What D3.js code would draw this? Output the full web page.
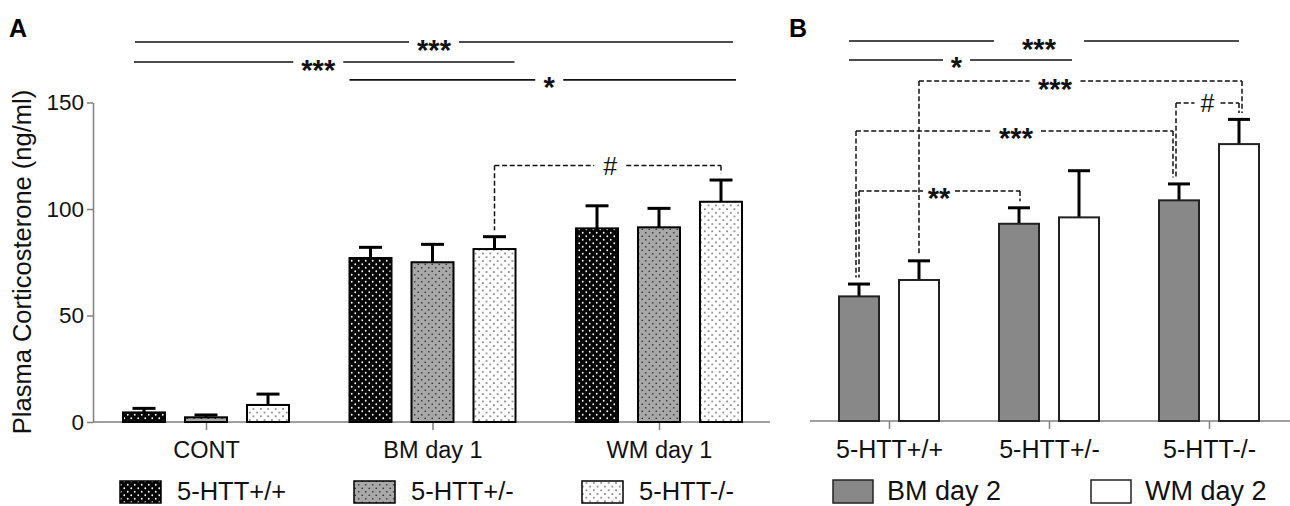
<!DOCTYPE html>
<html><head><meta charset="utf-8">
<script src="https://cdn.jsdelivr.net/npm/d3@7"></script>
<style>html,body{margin:0;padding:0;background:#fff;}svg{display:block;font-family:"Liberation Sans",Arial,sans-serif;}</style>
</head><body>
<svg id="c" width="1290" height="506"></svg>
<script>
// ---------- data ----------
const categoriesA = ["CONT", "BM day 1", "WM day 1"];
const seriesA = ["5-HTT+/+", "5-HTT+/-", "5-HTT-/-"];
const meansA = [[4.5, 2.2, 8.0], [77.0, 75.0, 81.2], [90.9, 91.4, 103.4]];
const semA = [[1.9, 1.1, 5.1], [5.0, 8.4, 5.8], [10.6, 8.9, 10.2]];

const categoriesB = ["5-HTT+/+", "5-HTT+/-", "5-HTT-/-"];
const seriesB = ["BM day 2", "WM day 2"];
const meansB = [[58.5, 66.2], [92.6, 95.6], [103.6, 130.0]];
const semB = [[5.8, 9.0], [7.5, 21.9], [7.7, 11.6]];

const yTicks = [0, 50, 100, 150];
const yTitle = "Plasma Corticosterone (ng/ml)";

// significance annotations (levels in data units)
const sigA = [
  {label: "***", level: 178.4, from: 0, to: 2, dashed: false},
  {label: "***", level: 169.0, from: 0, to: 1, dashed: false},
  {label: "*",   level: 160.6, from: 1, to: 2, dashed: false},
  {label: "#",   level: 120.4, from: [1, 2], to: [2, 2], dashed: true}
];
const sigB = [
  {label: "***", level: 178.4, from: 0, to: 2, dashed: false},
  {label: "*",   level: 169.5, from: 0, to: 1, dashed: false},
  {label: "***", level: 159.6, from: [0, 1], to: [2, 1], dashed: true},
  {label: "#",   level: 149.3, from: [2, 0], to: [2, 1], dashed: true},
  {label: "***", level: 136.2, from: [0, 0], to: [2, 0], dashed: true},
  {label: "**",  level: 108.0, from: [0, 0], to: [1, 0], dashed: true}
];

// ---------- layout (px) ----------
const layoutSigA = [
  {x1: -71, x2: 74, ldx: 0, gap: 25},
  {x1: -72, x2: 82, ldx: -6, gap: 25},
  {x1: -83, x2: 77, ldx: 6.5, gap: 14},
  {x1: 0, x2: 0, ldx: 2.5, gap: 16}
];
const layoutSigB = [
  {x1: -40, x2: 30, ldx: -5, gap: 45},
  {x1: -40, x2: 23, ldx: -4, gap: 13.5},
  {x1: 0, x2: 3, ldx: -25.5, gap: 25.5},
  {x1: -3, x2: 0, ldx: 0, gap: 13},
  {x1: -3, x2: -6, ldx: 1.5, gap: 25},
  {x1: 0, x2: 1, ldx: -0.5, gap: 16}
];

const FONT = "Liberation Sans, Arial, sans-serif";
const svg = d3.select("#c");
const defs = svg.append("defs");

function dotPattern(id, bg, dot, r, size) {
  const p = defs.append("pattern").attr("id", id).attr("patternUnits", "userSpaceOnUse")
    .attr("width", size).attr("height", size);
  p.append("rect").attr("width", size).attr("height", size).attr("fill", bg);
  p.append("circle").attr("cx", size / 4).attr("cy", size / 4).attr("r", r).attr("fill", dot);
  p.append("circle").attr("cx", 3 * size / 4).attr("cy", 3 * size / 4).attr("r", r).attr("fill", dot);
}
dotPattern("pA0", "#050505", "#ffffff", 0.9, 7);
dotPattern("pA1", "#a8a8a8", "#333333", 0.85, 7);
dotPattern("pA2", "#ffffff", "#333333", 0.8, 7.4);
const fillA = ["url(#pA0)", "url(#pA1)", "url(#pA2)"];
const fillB = ["#888888", "#ffffff"];

const y = d3.scaleLinear().domain([0, 150]).range([422, 102.5]);

// ---------- Panel A ----------
const gA = svg.append("g");
const xA = d3.scalePoint().domain(categoriesA).range([206, 659]);
const xsA = d3.scaleBand().domain(seriesA).range([-93, 93]).paddingInner(20 / 62).paddingOuter(10 / 62);

const yAxis = d3.axisLeft(y).tickValues(yTicks).tickSize(6).tickSizeOuter(0).tickPadding(3);
const ya = gA.append("g").attr("transform", "translate(93,0)").call(yAxis);
ya.select(".domain").attr("stroke", "#808080").attr("stroke-width", 1.5);
ya.selectAll(".tick line").attr("stroke", "#808080").attr("stroke-width", 1.5);
ya.selectAll(".tick text").attr("font-size", 22.5).attr("fill", "#111").attr("font-family", FONT);

const xAxisA = d3.axisBottom(xA).tickSize(8).tickSizeOuter(0).tickPadding(6);
const xaA = gA.append("g").attr("transform", "translate(0,422)").call(xAxisA);
xaA.select(".domain").attr("d", "M93,0H770").attr("stroke", "#808080").attr("stroke-width", 1.5);
xaA.selectAll(".tick line").attr("stroke", "#808080").attr("stroke-width", 1.5);
xaA.selectAll(".tick text").attr("font-size", 23.5).attr("fill", "#111").attr("font-family", FONT).attr("dy", "0.95em");

const dataA = [];
categoriesA.forEach((c, i) => seriesA.forEach((s, j) => dataA.push({c, s, i, j, v: meansA[i][j], e: semA[i][j]})));
const barsA = gA.append("g");
barsA.selectAll("line.err").data(dataA).join("line")
  .attr("x1", d => xA(d.c) + xsA(d.s) + xsA.bandwidth() / 2)
  .attr("x2", d => xA(d.c) + xsA(d.s) + xsA.bandwidth() / 2)
  .attr("y1", d => y(d.v)).attr("y2", d => y(d.v + d.e))
  .attr("stroke", "#000").attr("stroke-width", 3);
barsA.selectAll("line.cap").data(dataA).join("line")
  .attr("x1", d => xA(d.c) + xsA(d.s) + xsA.bandwidth() / 2 - 11.5)
  .attr("x2", d => xA(d.c) + xsA(d.s) + xsA.bandwidth() / 2 + 11.5)
  .attr("y1", d => y(d.v + d.e)).attr("y2", d => y(d.v + d.e))
  .attr("stroke", "#000").attr("stroke-width", 3);
barsA.selectAll("rect").data(dataA).join("rect")
  .attr("x", d => xA(d.c) + xsA(d.s)).attr("width", xsA.bandwidth())
  .attr("y", d => y(d.v)).attr("height", d => y(0) - y(d.v))
  .attr("fill", d => fillA[d.j]).attr("stroke", "#000").attr("stroke-width", 2);

// ---------- Panel B ----------
const gB = svg.append("g");
const xB = d3.scalePoint().domain(categoriesB).range([889, 1209]);
const xsB = d3.scaleBand().domain(seriesB).range([-60, 60]).paddingInner(20 / 60).paddingOuter(10 / 60);
const yB = y.copy().range([421, 101.5]);

const xAxisB = d3.axisBottom(xB).tickSize(8).tickSizeOuter(0).tickPadding(6);
const xaB = gB.append("g").attr("transform", "translate(0,421)").call(xAxisB);
xaB.select(".domain").attr("d", "M810,0H1290").attr("stroke", "#808080").attr("stroke-width", 1.5);
xaB.selectAll(".tick line").attr("stroke", "#808080").attr("stroke-width", 1.5);
xaB.selectAll(".tick text").attr("font-size", 25).attr("fill", "#111").attr("font-family", FONT).attr("dy", "0.92em");

const dataB = [];
categoriesB.forEach((c, i) => seriesB.forEach((s, j) => dataB.push({c, s, i, j, v: meansB[i][j], e: semB[i][j]})));
const barsB = gB.append("g");
barsB.selectAll("line.err").data(dataB).join("line")
  .attr("x1", d => xB(d.c) + xsB(d.s) + xsB.bandwidth() / 2)
  .attr("x2", d => xB(d.c) + xsB(d.s) + xsB.bandwidth() / 2)
  .attr("y1", d => yB(d.v)).attr("y2", d => yB(d.v + d.e))
  .attr("stroke", "#000").attr("stroke-width", 3);
barsB.selectAll("line.cap").data(dataB).join("line")
  .attr("x1", d => xB(d.c) + xsB(d.s) + xsB.bandwidth() / 2 - 11)
  .attr("x2", d => xB(d.c) + xsB(d.s) + xsB.bandwidth() / 2 + 11)
  .attr("y1", d => yB(d.v + d.e)).attr("y2", d => yB(d.v + d.e))
  .attr("stroke", "#000").attr("stroke-width", 3);
barsB.selectAll("rect").data(dataB).join("rect")
  .attr("x", d => xB(d.c) + xsB(d.s)).attr("width", xsB.bandwidth())
  .attr("y", d => yB(d.v)).attr("height", d => yB(0) - yB(d.v))
  .attr("fill", d => fillB[d.j]).attr("stroke", "#222").attr("stroke-width", 2);

// ---------- significance ----------
function drawSig(g, sigs, lays, xc, xs, ys, cats, sers, means, sems) {
  sigs.forEach((s, k) => {
    const L = lays[k];
    const ly = ys(s.level);
    let x1, x2;
    const segs = [];
    if (!s.dashed) {
      x1 = xc(cats[s.from]) + L.x1;
      x2 = xc(cats[s.to]) + L.x2;
    } else {
      const [fi, fj] = s.from, [ti, tj] = s.to;
      x1 = xc(cats[fi]) + xs(sers[fj]) + xs.bandwidth() / 2 + L.x1;
      x2 = xc(cats[ti]) + xs(sers[tj]) + xs.bandwidth() / 2 + L.x2;
      const b1 = ys(means[fi][fj] + sems[fi][fj]) - 6.5;
      const b2 = ys(means[ti][tj] + sems[ti][tj]) - 6.5;
      segs.push([x1, ly, x1, b1]);
      segs.push([x2, ly, x2, b2]);
    }
    const lx = (x1 + x2) / 2 + L.ldx;
    segs.push([x1, ly, lx - L.gap, ly]);
    segs.push([lx + L.gap, ly, x2, ly]);
    g.selectAll(null).data(segs).join("line")
      .attr("x1", d => d[0]).attr("y1", d => d[1]).attr("x2", d => d[2]).attr("y2", d => d[3])
      .attr("stroke", "#111").attr("stroke-width", s.dashed ? 1.5 : 1.6)
      .attr("stroke-dasharray", s.dashed ? "5,2.6" : null);
    const t = g.append("text").attr("x", lx).attr("text-anchor", "middle").attr("fill", "#111").text(s.label);
    if (s.label === "#") {
      t.attr("y", ly + 9).attr("font-size", 25);
    } else {
      t.attr("y", ly + 17.5).attr("font-size", 29).attr("font-weight", "bold");
    }
  });
}
drawSig(svg.append("g"), sigA, layoutSigA, xA, xsA, y, categoriesA, seriesA, meansA, semA);
drawSig(svg.append("g"), sigB, layoutSigB, xB, xsB, yB, categoriesB, seriesB, meansB, semB);

// ---------- titles ----------
svg.append("text").attr("x", 9).attr("y", 37).attr("font-size", 25).attr("font-weight", "bold").text("A");
svg.append("text").attr("x", 789).attr("y", 37).attr("font-size", 25).attr("font-weight", "bold").text("B");
svg.append("text").attr("transform", "translate(31,262) rotate(-90)").attr("text-anchor", "middle")
  .attr("font-size", 25.5).attr("fill", "#111").text(yTitle);

// ---------- legends ----------
const legA = svg.append("g");
const legAx = [120, 354, 582];
seriesA.forEach((s, j) => {
  legA.append("rect").attr("x", legAx[j]).attr("y", 481).attr("width", 41).attr("height", 22)
    .attr("fill", fillA[j]).attr("stroke", "#000").attr("stroke-width", 1.5);
  legA.append("text").attr("x", legAx[j] + 57).attr("y", 500).attr("font-size", 25.5).attr("fill", "#111").text(s);
});
const legB = svg.append("g");
const legBx = [833, 1091];
seriesB.forEach((s, j) => {
  legB.append("rect").attr("x", legBx[j]).attr("y", 480).attr("width", 40).attr("height", 23)
    .attr("fill", fillB[j]).attr("stroke", "#222").attr("stroke-width", 1.5);
  legB.append("text").attr("x", legBx[j] + 54).attr("y", 500).attr("font-size", 27).attr("fill", "#111").text(s);
});
</script>
</body></html>
